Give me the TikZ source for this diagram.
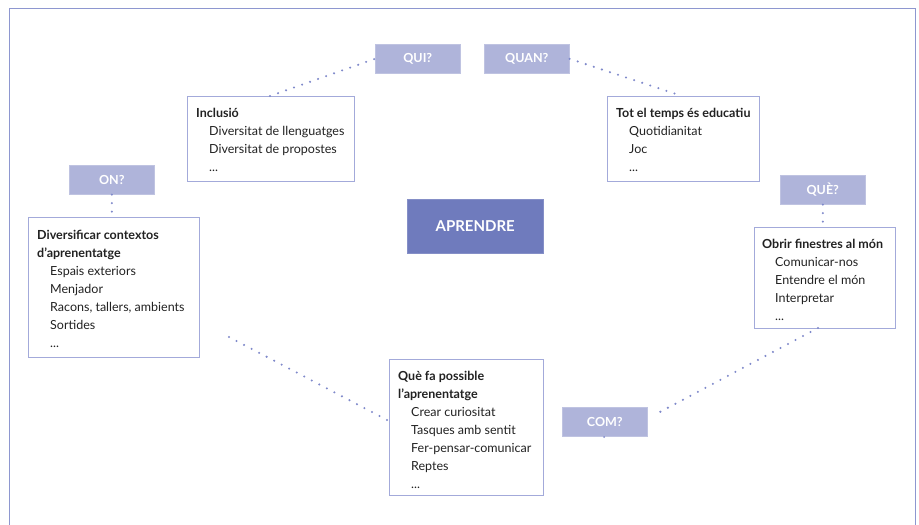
\documentclass[tikz,border=0pt]{standalone}
\usepackage{fontspec}
\setmainfont{Lato}
\definecolor{qfill}{HTML}{AFB4DA}
\definecolor{afill}{HTML}{6F7BBD}
\definecolor{bord}{HTML}{A3AADA}
\definecolor{dotc}{HTML}{7F89CA}
\definecolor{framec}{HTML}{8E97D0}
\definecolor{txtc}{HTML}{222222}
\begin{document}
\begin{tikzpicture}[x=1pt,y=-1pt,
  qbox/.style={fill=qfill, draw=qfill!80!white, line width=0.6pt, anchor=north west, inner sep=0, minimum width=85pt, minimum height=29pt, text=white, font=\fontsize{12.5}{14}\selectfont\bfseries},
  cbox/.style={draw=bord, line width=0.9pt, fill=white, anchor=north west, inner sep=0},
  txt/.style={anchor=north west, align=left, inner sep=0, text=txtc, font=\fontsize{12.5}{18}\selectfont},
  dots/.style={draw=dotc, line width=2.3pt, line cap=round, dash pattern=on 0pt off 8.5pt}
]
\useasboundingbox (0,0) rectangle (919,525);
\draw[framec, line width=0.9pt] (9,8) rectangle (915,540);

% question boxes
\node[qbox] (qui) at (375,44) {QUI?};
\node[qbox] (quan) at (484,44) {QUAN?};
\node[qbox] (on) at (69,165) {ON?};
\node[qbox] (que) at (780,175) {QUÈ?};
\node[qbox] (com) at (562,407) {COM?};

% centre
\node[fill=afill, draw=afill!85!white, anchor=north west, minimum width=136pt, minimum height=54pt, inner sep=0, text=white, font=\fontsize{15}{17}\selectfont\bfseries] (apr) at (407,199) {APRENDRE};

% content boxes
\node[cbox, minimum width=167pt, minimum height=85pt] (inc) at (187,96) {};
\node[txt] (inct) at (196,108) {\textbf{Inclusió}\\\hspace{13pt}Diversitat de llenguatges\\\hspace{13pt}Diversitat de propostes\\\hspace{13pt}...};

\node[cbox, minimum width=152pt, minimum height=85pt] (tot) at (607,96) {};
\node[txt] (tott) at (616,108) {\textbf{Tot el temps és educatiu}\\\hspace{13pt}Quotidianitat\\\hspace{13pt}Joc\\\hspace{13pt}...};

\node[cbox, minimum width=171pt, minimum height=140pt] (div) at (28,217) {};
\node[txt] (divt) at (37,229.5) {\textbf{Diversificar contextos}\\\textbf{d’aprenentatge}\\\hspace{13pt}Espais exteriors\\\hspace{13pt}Menjador\\\hspace{13pt}Racons, tallers, ambients\\\hspace{13pt}Sortides\\\hspace{13pt}...};

\node[cbox, minimum width=141pt, minimum height=101pt] (obr) at (754,227) {};
\node[txt] (obrt) at (762,238.5) {\textbf{Obrir finestres al món}\\\hspace{13pt}Comunicar-nos\\\hspace{13pt}Entendre el món\\\hspace{13pt}Interpretar\\\hspace{13pt}...};

\node[cbox, minimum width=154pt, minimum height=136pt] (qfa) at (389,359) {};
\node[txt] (qfat) at (398,371.5) {\textbf{Què fa possible}\\\textbf{l’aprenentatge}\\\hspace{13pt}Crear curiositat\\\hspace{13pt}Tasques amb sentit\\\hspace{13pt}Fer-pensar-comunicar\\\hspace{13pt}Reptes\\\hspace{13pt}...};

% connectors
\coordinate (incTop) at (270,96);
\coordinate (totTop) at (682,96);
\coordinate (divEnd) at (229,337);
\coordinate (qfaIn) at (389,421);
\coordinate (obrBot) at (818,328);
\coordinate (comEnd) at (658,413);
\coordinate (comDot) at (604,437);

\draw[dots] (incTop) -- (qui.west);
\draw[dots] (quan.east) -- (totTop);
\draw[dots] (on.south) -- (div.north -| on.south);
\draw[dots] (que.south) -- (obr.north -| que.south);
\draw[dots] (obrBot) -- (comEnd);
\draw[dots] (divEnd) -- (qfaIn);
\fill[dotc] (comDot) circle (1pt);
\end{tikzpicture}
\end{document}
